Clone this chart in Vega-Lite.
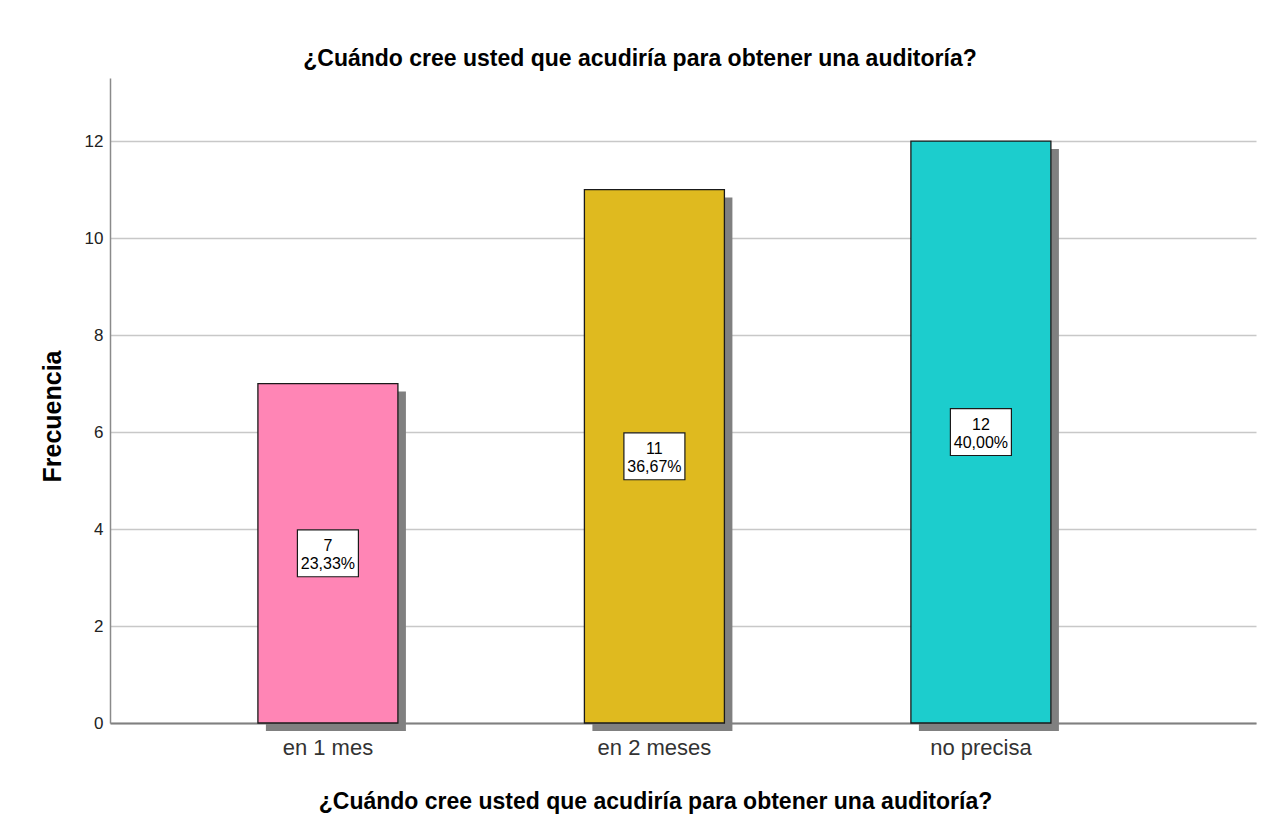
{
  "$schema": "https://vega.github.io/schema/vega-lite/v6.json",
  "autosize": "none",
  "width": 1146,
  "height": 645,
  "padding": {"left": 110, "top": 78, "right": 6, "bottom": 112},
  "background": "white",
  "config": {
    "font": "Liberation Sans",
    "view": {"stroke": null}
  },
  "title": {
    "text": "¿Cuándo cree usted que acudiría para obtener una auditoría?",
    "font": "Liberation Sans",
    "fontSize": 23,
    "fontWeight": "bold",
    "color": "#000000",
    "anchor": "middle",
    "dx": -43,
    "offset": 7
  },
  "data": {
    "values": [
      {"cat": "en 1 mes", "count": 7, "label": "7\n23,33%"},
      {"cat": "en 2  meses", "count": 11, "label": "11\n36,67%"},
      {"cat": "no precisa", "count": 12, "label": "12\n40,00%"}
    ]
  },
  "layer": [
    {
      "layer": [
        {
          "mark": {"type": "bar", "color": "#808080", "xOffset": 8, "yOffset": 8, "y2Offset": 8},
          "encoding": {
            "x": {
              "field": "cat", "type": "nominal", "sort": null,
              "scale": {"paddingInner": 0.5712, "paddingOuter": 0.5406, "align": 0.419},
              "axis": {
                "title": "¿Cuándo cree usted que acudiría para obtener una auditoría?",
                "titleFont": "Liberation Sans",
                "titleFontSize": 23,
                "titleFontWeight": "bold",
                "titleColor": "#000000",
                "titleAlign": "center",
                "titleBaseline": "alphabetic",
                "titleX": 545,
                "titleY": 85,
                "labelAngle": 0,
                "labelFontSize": 22,
                "labelColor": "#333333",
                "labelPadding": 14,
                "ticks": false,
                "domainColor": "#808080",
                "domainWidth": 2,
                "grid": false
              }
            },
            "y": {
              "field": "count", "type": "quantitative",
              "scale": {"domain": [0, 13.3], "nice": false, "zero": true},
              "axis": {
                "title": "Frecuencia",
                "titleFont": "Liberation Sans",
                "titleFontSize": 25,
                "titleFontWeight": "bold",
                "titleColor": "#000000",
                "titleAngle": -90,
                "titleAlign": "center",
                "titleBaseline": "alphabetic",
                "titleX": -50,
                "titleY": 338,
                "values": [0, 2, 4, 6, 8, 10, 12],
                "labelFontSize": 17,
                "labelColor": "#222222",
                "labelPadding": 7,
                "ticks": false,
                "domainColor": "#8a8a8a",
                "domainWidth": 1.5,
                "grid": true,
                "gridColor": "#c8c8c8",
                "gridWidth": 1.5
              }
            }
          }
        },
        {
          "mark": {"type": "bar", "stroke": "#1a1a1a", "strokeWidth": 1.3},
          "encoding": {
            "x": {"field": "cat", "type": "nominal", "sort": null},
            "y": {"field": "count", "type": "quantitative", "scale": {"domain": [0, 13.3], "nice": false, "zero": true}},
            "color": {
              "field": "cat", "type": "nominal", "sort": null,
              "scale": {"domain": ["en 1 mes", "en 2  meses", "no precisa"], "range": ["#FF85B5", "#DFBA1F", "#1CCDCD"]},
              "legend": null
            }
          }
        }
      ]
    },
    {
      "layer": [
        {
          "mark": {
            "type": "point",
            "shape": "M-1,-0.77L1,-0.77L1,0.77L-1,0.77Z",
            "size": 3721,
            "filled": true,
            "fill": "#ffffff",
            "stroke": "#1a1a1a",
            "strokeWidth": 1.2,
            "opacity": 1
          },
          "encoding": {
            "x": {"field": "cat", "type": "nominal", "sort": null},
            "y": {"field": "count", "type": "quantitative", "scale": {"domain": [0, 26.6], "nice": false}, "axis": null}
          }
        },
        {
          "mark": {"type": "text", "lineBreak": "\n", "fontSize": 16, "lineHeight": 18, "baseline": "middle", "align": "center", "dy": -7, "color": "#000000", "font": "Liberation Sans"},
          "encoding": {
            "x": {"field": "cat", "type": "nominal", "sort": null},
            "y": {"field": "count", "type": "quantitative", "scale": {"domain": [0, 26.6], "nice": false}, "axis": null},
            "text": {"field": "label"}
          }
        }
      ]
    }
  ],
  "resolve": {"scale": {"y": "independent"}}
}
